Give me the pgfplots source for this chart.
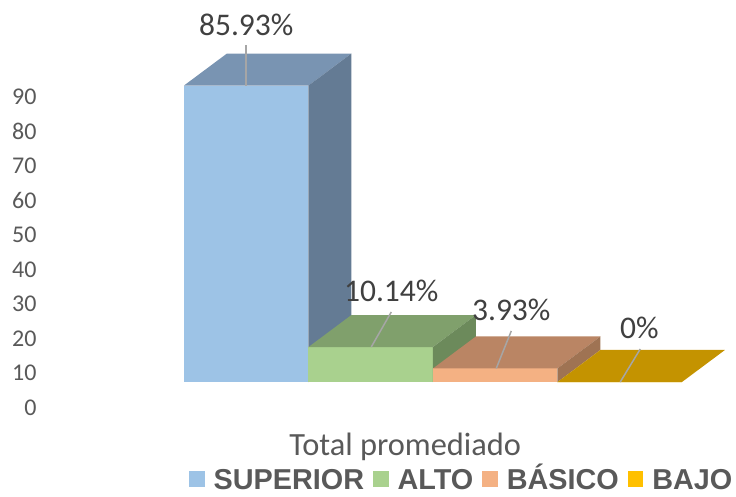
\documentclass[border=0pt]{standalone}
\usepackage{fontspec}
\setmainfont{Carlito}
\newfontfamily\legfont{Liberation Sans}
\usepackage{pgfplots}
\pgfplotsset{compat=1.18}
\definecolor{txt}{HTML}{595959}
\definecolor{lbl}{HTML}{404040}
\definecolor{lead}{HTML}{A6A6A6}
\definecolor{supF}{HTML}{9DC3E6}
\definecolor{supT}{HTML}{7994B2}
\definecolor{supS}{HTML}{647B94}
\definecolor{altF}{HTML}{A9D18E}
\definecolor{altT}{HTML}{80A06C}
\definecolor{altS}{HTML}{6C8A5B}
\definecolor{basF}{HTML}{F4B183}
\definecolor{basT}{HTML}{BA8564}
\definecolor{basS}{HTML}{9F7353}
\definecolor{bajF}{HTML}{FFC000}
\definecolor{bajT}{HTML}{C49300}
\begin{document}
\begin{tikzpicture}
\useasboundingbox (0,0) rectangle (736pt,496pt);
\begin{axis}[
	scale only axis, width=736pt, height=496pt, clip=false,
	xmin=-0.978, xmax=4.934, ymin=-33.04, ymax=110.72,
	axis line style={draw=none}, tick style={draw=none},
	xtick=\empty,
	ytick={-7,3,13,23,33,43,53,63,73,83},
	yticklabels={0,10,20,30,40,50,60,70,80,90},
	y tick label style={font=\fontsize{24}{26}\selectfont, text=txt, anchor=east, xshift=40pt, yshift=-1.2pt},
	legend columns=4,
	legend style={at={(axis cs:2.723,-28.1)}, anchor=center, draw=none, fill=none,
		font=\fontsize{28.8}{30}\legfont\bfseries\color{txt}, inner sep=0pt,
		nodes={inner sep=0pt, text height=21pt, text depth=0pt},
		/tikz/every even column/.append style={column sep=9pt},
		/tikz/every odd column/.append style={column sep=9pt}},
	legend image code/.code={\fill[#1] (0pt,-8pt) rectangle (15.5pt,7.5pt);},
]
% SUPERIOR
\addplot[ybar, bar width=124.5pt, bar shift=0pt, fill=supF, draw=none] coordinates {(1,85.93)};
\addlegendentry{SUPERIOR}
\addplot[fill=supT, draw=none, forget plot] coordinates {(0.5,85.93) (1.5,85.93) (1.845,95.21) (0.845,95.21)} -- cycle;
\addplot[fill=supS, draw=none, forget plot] coordinates {(1.5,0) (1.845,9.28) (1.845,95.21) (1.5,85.93)} -- cycle;
% ALTO
\addplot[ybar, bar width=124.5pt, bar shift=0pt, fill=altF, draw=none] coordinates {(2,10.14)};
\addlegendentry{ALTO}
\addplot[fill=altT, draw=none, forget plot] coordinates {(1.5,10.14) (2.5,10.14) (2.845,19.42) (1.845,19.42)} -- cycle;
\addplot[fill=altS, draw=none, forget plot] coordinates {(2.5,0) (2.845,9.28) (2.845,19.42) (2.5,10.14)} -- cycle;
% BASICO
\addplot[ybar, bar width=124.5pt, bar shift=0pt, fill=basF, draw=none] coordinates {(3,3.93)};
\addlegendentry{BÁSICO}
\addplot[fill=basT, draw=none, forget plot] coordinates {(2.5,3.93) (3.5,3.93) (3.845,13.21) (2.845,13.21)} -- cycle;
\addplot[fill=basS, draw=none, forget plot] coordinates {(3.5,0) (3.845,9.28) (3.845,13.21) (3.5,3.93)} -- cycle;
% BAJO
\addplot[ybar, bar width=124.5pt, bar shift=0pt, fill=bajF, draw=none] coordinates {(4,0)};
\addlegendentry{BAJO}
\addplot[fill=bajT, draw=none, forget plot] coordinates {(3.5,0) (4.5,0) (4.845,9.28) (3.845,9.28)} -- cycle;
% leader lines
\addplot[lead, line width=1.5pt, forget plot] coordinates {(1,85.93) (1,97.7)};
\addplot[lead, line width=1.5pt, forget plot] coordinates {(2.004,10.14) (2.165,20.3)};
\addplot[lead, line width=1.5pt, forget plot] coordinates {(3.008,3.93) (3.129,14.8)};
\addplot[lead, line width=1.5pt, forget plot] coordinates {(4.004,0) (4.165,9.57)};
% data labels
\node[text=lbl, font=\fontsize{31.5}{33}\selectfont] at (axis cs:1,103.5) {85.93\%};
\node[text=lbl, font=\fontsize{31.5}{33}\selectfont] at (axis cs:2.165,26.4) {10.14\%};
\node[text=lbl, font=\fontsize{31.5}{33}\selectfont] at (axis cs:3.129,20.9) {3.93\%};
\node[text=lbl, font=\fontsize{31.5}{33}\selectfont] at (axis cs:4.157,15.65) {0\%};
\node[text=txt, font=\fontsize{32.4}{34}\selectfont] at (axis cs:2.277,-18.8) {Total promediado};
\end{axis}
\end{tikzpicture}
\end{document}
